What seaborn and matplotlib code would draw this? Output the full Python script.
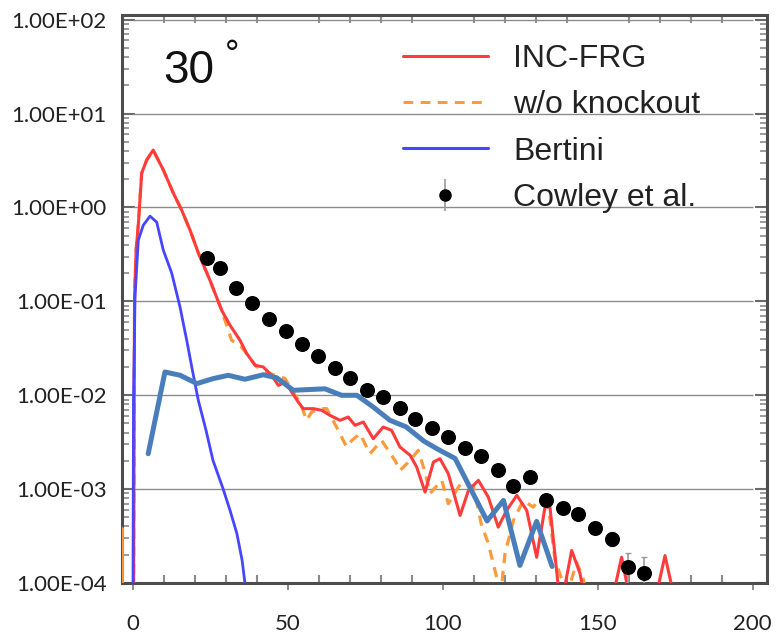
import numpy as np
import pandas as pd
import matplotlib
matplotlib.use("Agg")
import matplotlib.pyplot as plt
from matplotlib.ticker import FixedLocator, MultipleLocator, LogLocator, NullFormatter
from matplotlib.lines import Line2D
import seaborn as sns

# ---------------- data ----------------
inc_x = [0.3, 0.6, 1.1, 1.8, 2.9, 4.5, 6.6, 9.9, 13.1, 15.8, 18.5, 21.2, 24.9, 28.7, 31.4, 34.6,
         36.8, 39.5, 42.1, 44.8, 47.0, 49.1, 51.3, 53.4, 55.0, 58.3, 61.0, 63.6, 66.9, 69.5, 71.7,
         74.4, 77.6, 80.8, 83.5, 86.2, 89.5, 91.6, 94.3, 97.0, 99.1, 101.8, 105.6, 108.3, 111.5,
         114.7, 117.9, 120.6, 123.9, 127.1, 130.3, 133.0, 134.6, 137.3, 138.5, 141.6, 144.3, 145.9,
         154.6, 157.7, 160.5, 168.5, 171.7, 174.9]
inc_y = [8e-5, 0.111, 0.351, 0.647, 2.32, 3.19, 4.08, 2.50, 1.42, 0.936, 0.573, 0.326, 0.168,
         0.0803, 0.0556, 0.0385, 0.0277, 0.0208, 0.0200, 0.0163, 0.0127, 0.0138, 0.0108, 0.00846,
         0.00719, 0.00719, 0.00690, 0.00611, 0.00540, 0.00586, 0.00478, 0.00518, 0.00344, 0.00458,
         0.00423, 0.00281, 0.00229, 0.00172, 0.000929, 0.00194, 0.00211, 0.00146, 0.000524,
         0.000968, 0.00124, 0.000822, 0.000394, 0.000593, 0.000857, 0.000593, 0.000188, 0.000643,
         0.000643, 9e-5, 6.5e-5, 0.000222, 0.000126, 6.5e-5, 6.5e-5, 0.000188, 6.5e-5, 6.5e-5,
         0.000196, 6.5e-5]

woko_x = [0.3, 0.6, 1.1, 1.8, 2.9, 4.5, 6.6, 9.9, 13.1, 15.8, 18.5, 21.2, 24.9, 28.7, 31.9, 34.6,
          37.2, 39.8, 42.7, 45.9, 49.1, 52.4, 54.0, 56.1, 57.7, 60.4, 62.6, 66.3, 69.0, 70.7, 73.3,
          76.5, 80.3, 84.6, 86.2, 89.5, 92.1, 94.3, 95.9, 99.7, 101.8, 105.6, 109.9, 112.6, 114.6,
          117.4, 118.5, 120.1, 122.8, 126.0, 129.2, 130.8, 134.1, 136.2, 138.4, 139.5, 143.2,
          145.4, 146.6]
woko_y = [8e-5, 0.111, 0.351, 0.647, 2.32, 3.19, 4.08, 2.50, 1.42, 0.936, 0.573, 0.326, 0.168,
          0.0803, 0.0385, 0.0340, 0.0266, 0.0203, 0.0180, 0.0163, 0.0151, 0.00998, 0.00839,
          0.00540, 0.00662, 0.00719, 0.00719, 0.00423, 0.00281, 0.00330, 0.00390, 0.00238,
          0.00330, 0.00202, 0.00158, 0.00202, 0.00259, 0.00151, 0.000899, 0.00124, 0.000699,
          0.00112, 0.00107, 0.000401, 0.000271, 0.000115, 6.5e-5, 0.000206, 0.000463, 0.000757,
          0.000643, 0.000757, 0.000643, 0.000178, 0.000109, 6.5e-5, 0.000166, 0.000109, 6.5e-5]
woko_edge_x = [-3.3, -3.3]
woko_edge_y = [8e-5, 3.9e-4]

bert_x = [0.1, 0.26, 0.74, 1.81, 3.42, 5.58, 7.74, 9.87, 12.58, 15.26, 17.42, 19.13, 21.16,
          23.65, 25.9, 29.1, 31.4, 33.6, 35.3, 36.2]
bert_y = [1e-4, 0.00883, 0.111, 0.448, 0.647, 0.807, 0.697, 0.351, 0.200, 0.0871, 0.0385,
          0.0194, 0.00883, 0.00423, 0.00202, 0.00102, 0.000593, 0.000337, 0.000174, 1e-4]

excel_x = [5.0, 10.4, 15.3, 20.7, 26.0, 30.8, 36.2, 42.1, 46.5, 51.8, 62.0, 67.4, 72.3, 77.6,
           83.0, 88.2, 94.0, 98.5, 104.0, 114.3, 119.6, 124.9, 130.3, 135.3]
excel_y = [0.00238, 0.01767, 0.0163, 0.0133, 0.01503, 0.0163, 0.01479, 0.0165, 0.0153, 0.01128,
           0.0117, 0.00998, 0.00998, 0.00748, 0.00540, 0.00460, 0.00323, 0.00265, 0.00212,
           0.000458, 0.000758, 0.000154, 0.000453, 0.000150]

cow_x = [23.9, 28.2, 33.2, 38.6, 44.1, 49.3, 54.5, 59.9, 65.3, 70.1, 75.5, 80.8, 86.2, 91.1,
         96.5, 101.8, 107.2, 112.4, 117.7, 122.8, 128.2, 133.3, 138.9, 143.7, 149.1, 154.5,
         159.9, 164.9]
cow_y = [0.286, 0.227, 0.139, 0.0948, 0.0656, 0.048, 0.0349, 0.026, 0.0197, 0.0154, 0.0113,
         0.00957, 0.00738, 0.00564, 0.00452, 0.00358, 0.00276, 0.00223, 0.00161, 0.00107,
         0.00136, 0.000757, 0.000634, 0.000547, 0.000388, 0.000296, 0.000147, 0.000127]
cow_err = [0.02, 0.015, 0.01, 0.006, 0.004, 0.003, 0.002, 0.0015, 0.0012, 0.0009, 0.0007,
           0.0006, 0.0005, 0.0004, 0.0003, 0.00025, 0.0002, 0.00016, 0.00012, 0.0001, 0.00012,
           0.00008, 0.00007, 0.00006, 0.00005, 0.00005, 0.00006, 0.00006]

legend_labels = ["INC-FRG", "w/o knockout", "Bertini", "Cowley et al."]
x_ticks = [0, 50, 100, 150, 200]
y_ticks = [1e-4, 1e-3, 1e-2, 1e-1, 1e0, 1e1, 1e2]
y_ticklabels = ["1.00E-04", "1.00E-03", "1.00E-02", "1.00E-01", "1.00E+00", "1.00E+01", "1.00E+02"]
angle_label = "30"

# ---------------- style ----------------
sns.set_theme(style="white")
plt.rcParams["font.family"] = ["Liberation Sans", "DejaVu Sans"]

RED = "#ff3b3b"
ORANGE = "#ff9a3c"
BLUE = "#4646ff"
STEEL = "#4a7ebb"

fig = plt.figure(figsize=(7.76, 6.33), dpi=100)
ax = fig.add_axes([122 / 776, 1 - 583 / 633, 645 / 776, 568 / 633])

ax.set_yscale("log")
ax.set_xlim(-3.45, 204.6)
ax.set_ylim(1e-4, 112)

# Excel gridlines
for v in y_ticks:
    ax.hlines(v, 0, 200, color="#8c8c8c", lw=1.0, zorder=1)

df_w = pd.DataFrame({"x": woko_x, "y": woko_y})
df_i = pd.DataFrame({"x": inc_x, "y": inc_y})
df_b = pd.DataFrame({"x": bert_x, "y": bert_y})
df_e = pd.DataFrame({"x": excel_x, "y": excel_y})
df_we = pd.DataFrame({"x": woko_edge_x, "y": woko_edge_y})

sns.lineplot(data=df_we, x="x", y="y", ax=ax, color=ORANGE, lw=2, sort=False, estimator=None, zorder=3)
sns.lineplot(data=df_w, x="x", y="y", ax=ax, color=ORANGE, lw=2.3, sort=False, estimator=None,
             dashes=(3.2, 2.4), zorder=3)
sns.lineplot(data=df_i, x="x", y="y", ax=ax, color=RED, lw=2.2, sort=False, estimator=None, zorder=4)
sns.lineplot(data=df_b, x="x", y="y", ax=ax, color=BLUE, lw=2.0, sort=False, estimator=None, zorder=4)
sns.lineplot(data=df_e, x="x", y="y", ax=ax, color=STEEL, lw=3.6, sort=False, estimator=None, zorder=5)

ax.errorbar(cow_x, cow_y, yerr=cow_err, fmt="o", color="black", ms=9.8, ecolor="#9a9a9a",
            elinewidth=1.2, capsize=2.5, zorder=6)

# axes cosmetics
for s in ax.spines.values():
    s.set_color("#4d4d4d")
    s.set_linewidth(2.2)

ax.xaxis.set_major_locator(FixedLocator(x_ticks))
ax.xaxis.set_minor_locator(MultipleLocator(10))
ax.set_xticklabels([str(t) for t in x_ticks])
ax.yaxis.set_major_locator(FixedLocator(y_ticks))
ax.set_yticklabels(y_ticklabels)
ax.yaxis.set_minor_locator(LogLocator(base=10, subs=np.arange(2, 10)))
ax.yaxis.set_minor_formatter(NullFormatter())

ax.tick_params(axis="x", which="major", direction="out", length=5, width=1.2, color="#7a7a7a",
               pad=17, labelsize=16, bottom=True, top=False)
ax.tick_params(axis="x", which="minor", direction="in", length=6, width=1.5, color="#8a8a8a",
               bottom=True, top=True)
ax.tick_params(axis="y", which="major", direction="in", length=9, width=1.5, color="#6a6a6a",
               pad=11, labelsize=16, left=True, right=True)
ax.tick_params(axis="y", which="minor", direction="in", length=5, width=1.2, color="#8a8a8a",
               left=True, right=True)
for lab in ax.get_xticklabels() + ax.get_yticklabels():
    lab.set_family(["Lato", "DejaVu Sans"])
    lab.set_color("#222222")
ax.set_xlabel("")
ax.set_ylabel("")

# angle label
ax.text(0.064, 0.881, angle_label, transform=ax.transAxes, fontsize=33, color="#111111",
        ha="left", va="baseline")
ax.text(0.160, 0.958, "°", transform=ax.transAxes, fontsize=26, color="#111111",
        ha="left", va="top")

# legend
handles = [
    Line2D([], [], color=RED, lw=2.2),
    Line2D([], [], color=ORANGE, lw=2.2, dashes=(3.2, 2.4)),
    Line2D([], [], color=BLUE, lw=2.2),
]
eb_handle = ax.errorbar([], [], yerr=[], fmt="o", color="black", ms=8, ecolor="#9a9a9a",
                        elinewidth=1.2, capsize=2.5)
handles.append(eb_handle)
leg = ax.legend(handles, legend_labels, loc="upper left",
                bbox_to_anchor=(403 / 776, 1 - 44 / 633), bbox_transform=fig.transFigure,
                frameon=False, fontsize=23, handlelength=2.66, handletextpad=0.78,
                labelspacing=0.51, borderpad=0, borderaxespad=0)
for t in leg.get_texts():
    t.set_color("#222222")

fig.savefig("out.png", dpi=100)
